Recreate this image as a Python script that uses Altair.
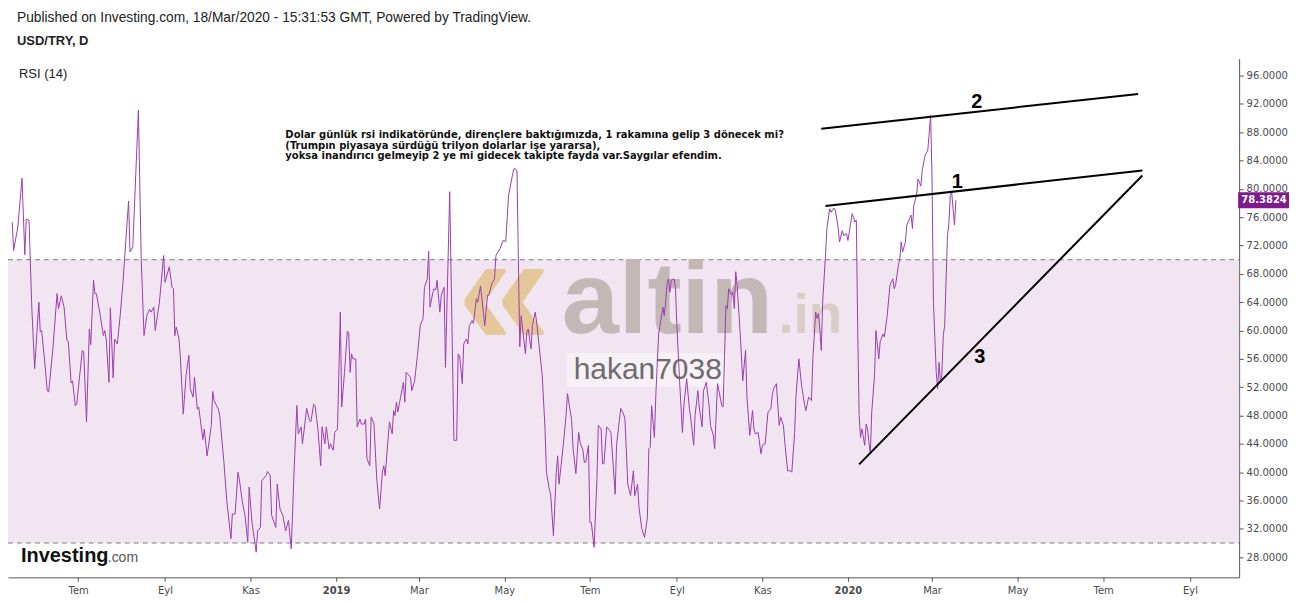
import altair as alt
import pandas as pd

# ---------------- data ----------------
start_date = "2018-05-14"
day_offsets = [
    1, 2, 5, 8, 10, 11, 13, 15, 17, 20, 21, 22, 24, 26, 27, 30, 33, 34, 36, 38,
    40, 41, 43, 44, 46, 47, 51, 52, 54, 56, 57, 59, 60, 61, 63, 66, 67, 68, 70, 71,
    73, 74, 76, 78, 80, 81, 84, 85, 87, 91, 93, 95, 97, 99, 100, 102, 103, 106, 109, 110,
    113, 115, 116, 117, 118, 120, 121, 123, 125, 127, 128, 130, 131, 133, 134, 137, 138, 140, 143, 144,
    145, 148, 149, 152, 154, 157, 158, 160, 162, 163, 165, 167, 169, 170, 172, 175, 176, 178, 179, 182,
    183, 185, 186, 189, 190, 192, 194, 196, 198, 200, 202, 204, 205, 207, 208, 211, 213, 214, 216, 217,
    219, 221, 222, 224, 225, 227, 228, 230, 231, 233, 235, 236, 238, 240, 241, 242, 243, 244, 246, 247,
    249, 250, 252, 253, 254, 256, 257, 259, 261, 263, 265, 266, 267, 270, 272, 273, 274, 275, 276, 278,
    280, 281, 282, 283, 285, 286, 288, 290, 292, 294, 295, 297, 298, 299, 301, 302, 303, 304, 306, 307,
    309, 310, 313, 316, 318, 319, 320, 322, 323, 325, 326, 327, 329, 330, 332, 333, 335, 337, 338, 340,
    341, 343, 345, 346, 349, 351, 353, 355, 358, 359, 361, 362, 363, 364, 365, 367, 368, 369, 371, 372,
    374, 375, 377, 379, 381, 382, 384, 385, 387, 389, 390, 391, 394, 396, 397, 400, 401, 403, 405, 406,
    408, 409, 410, 412, 413, 414, 416, 418, 419, 421, 422, 423, 425, 427, 428, 431, 432, 434, 435, 437,
    438, 440, 442, 444, 445, 447, 448, 450, 452, 454, 455, 456, 457, 459, 460, 462, 463, 465, 466, 467,
    468, 469, 470, 471, 473, 474, 475, 477, 479, 480, 482, 484, 485, 487, 488, 490, 491, 493, 494, 496,
    498, 499, 501, 502, 504, 505, 507, 508, 510, 511, 512, 514, 515, 516, 517, 518, 520, 522, 524, 525,
    527, 529, 530, 531, 533, 535, 536, 538, 540, 542, 543, 544, 546, 548, 549, 551, 552, 554, 556, 557,
    559, 560, 562, 564, 566, 567, 569, 571, 572, 574, 575, 576, 577, 578, 579, 581, 582, 584, 585, 587,
    588, 590, 591, 593, 594, 596, 597, 598, 600, 601, 602, 603, 604, 605, 606, 607, 609, 610, 611, 612,
    613, 614, 616, 617, 619, 620, 622, 623, 625, 627, 629, 630, 631, 633, 634, 635, 636, 638, 639, 641,
    642, 643, 644, 646, 647, 649, 650, 652, 654, 655, 656, 657, 658, 660, 661, 662, 663, 664, 665, 666,
    668, 669, 670, 671, 673, 674,
]
rsi_values = [
    75.3, 71.3, 74.6, 81.5, 70.7, 75.7, 75.6, 63.1, 54.6, 64.0, 59.8, 60.0, 56.0, 51.5, 51.3, 57.4, 65.2, 63.1, 64.9, 63.3,
    58.6, 58.5, 52.6, 52.9, 49.4, 49.6, 57.2, 57.0, 47.1, 60.2, 58.0, 67.1, 65.2, 65.2, 63.1, 59.3, 60.0, 58.8, 52.7, 63.2,
    53.3, 58.8, 58.1, 62.1, 66.8, 69.7, 78.3, 71.1, 71.8, 91.1, 70.1, 59.3, 62.1, 63.0, 62.6, 63.3, 60.0, 64.0, 70.6, 66.8,
    69.0, 66.1, 65.9, 59.3, 60.5, 58.8, 56.0, 48.2, 53.7, 56.5, 51.8, 50.6, 53.4, 48.9, 49.2, 44.6, 46.1, 42.3, 46.6, 51.4,
    50.1, 48.9, 48.0, 41.4, 36.0, 30.6, 34.1, 34.1, 40.0, 39.0, 36.0, 33.9, 30.1, 37.9, 32.9, 28.7, 31.7, 32.2, 38.8, 39.5,
    40.1, 39.5, 33.9, 32.2, 38.3, 34.8, 33.9, 31.7, 33.2, 29.2, 40.0, 49.4, 45.4, 46.4, 44.0, 49.0, 47.3, 47.1, 49.6, 49.4,
    46.1, 40.9, 46.4, 44.0, 46.4, 43.3, 44.0, 43.1, 45.6, 46.1, 62.6, 49.2, 54.1, 59.9, 59.7, 54.1, 56.7, 56.0, 56.0, 46.4,
    47.5, 46.8, 46.8, 47.5, 41.9, 40.9, 47.8, 46.8, 39.0, 34.8, 40.0, 40.9, 39.5, 47.1, 45.4, 48.7, 48.0, 49.9, 48.5, 50.6,
    52.7, 49.9, 54.1, 53.9, 53.4, 51.5, 52.9, 56.5, 60.7, 61.7, 66.1, 67.3, 71.2, 63.3, 65.4, 65.9, 65.7, 67.1, 62.6, 65.0,
    66.1, 54.8, 79.6, 44.5, 44.5, 56.7, 56.5, 52.5, 58.1, 58.8, 58.1, 60.7, 61.4, 61.0, 64.5, 64.0, 66.3, 62.6, 60.7, 65.0,
    65.0, 66.6, 67.3, 70.6, 71.6, 72.7, 72.6, 79.1, 82.2, 82.9, 82.6, 69.7, 57.7, 62.1, 60.2, 56.7, 59.8, 60.2, 57.4, 60.7,
    62.6, 61.2, 57.4, 53.7, 46.1, 40.0, 37.6, 36.9, 31.0, 40.0, 42.3, 38.3, 43.8, 48.0, 51.1, 47.3, 43.3, 39.8, 45.6, 44.2,
    43.1, 41.4, 41.4, 43.8, 32.9, 32.9, 29.4, 39.0, 46.6, 46.1, 41.2, 41.2, 46.4, 45.9, 45.6, 36.9, 43.8, 47.3, 49.0, 48.2,
    47.5, 38.3, 36.7, 40.2, 36.7, 38.3, 35.0, 32.0, 30.8, 33.6, 43.3, 43.5, 49.4, 44.9, 50.8, 59.5, 60.7, 63.3, 62.1, 64.0,
    66.6, 67.3, 65.4, 67.1, 67.3, 66.1, 60.7, 52.7, 45.6, 49.4, 53.2, 48.9, 47.5, 43.8, 48.0, 51.5, 49.2, 46.4, 51.5, 52.7,
    49.4, 46.6, 45.2, 43.3, 52.5, 51.5, 49.4, 49.2, 63.5, 63.1, 65.9, 65.0, 65.4, 63.1, 68.3, 66.4, 60.2, 52.9, 57.2, 50.6,
    45.2, 48.7, 46.1, 45.4, 45.6, 42.6, 43.8, 44.0, 48.5, 48.9, 50.8, 51.8, 52.5, 46.6, 47.8, 46.6, 44.2, 40.2, 40.2, 40.0,
    45.6, 50.8, 56.0, 52.2, 49.6, 48.7, 50.6, 50.1, 56.0, 62.6, 61.7, 62.4, 60.2, 57.2, 64.0, 70.6, 74.4, 77.2, 76.7, 77.3,
    77.0, 74.6, 72.5, 74.1, 73.4, 73.7, 72.7, 73.9, 76.5, 76.0, 75.3, 75.6, 60.2, 48.0, 44.9, 46.1, 43.8, 46.8, 46.1, 44.2,
    42.6, 48.5, 53.7, 60.0, 56.0, 58.4, 59.5, 59.1, 62.1, 66.4, 67.3, 65.9, 66.4, 69.2, 70.1, 72.5, 71.1, 72.5, 74.9, 75.8,
    76.3, 74.4, 77.7, 79.1, 81.4, 80.4, 82.6, 84.7, 85.5, 88.0, 90.4, 81.4, 64.0, 54.1, 51.8, 55.5, 52.7, 53.7, 59.3, 60.7,
    73.4, 75.1, 79.1, 79.5, 74.9, 78.3824,
]
last_value = 78.3824
band_levels = [30, 70]

trend_ids = ["1", "1", "2", "2", "3", "3"]
trend_dates = ["2019-12-16", "2020-07-29", "2019-12-13", "2020-07-26", "2020-01-09", "2020-07-29"]
trend_values = [77.6, 82.6, 88.5, 93.4, 41.1, 81.9]

label_texts = ["1", "2", "3"]
label_dates = ["2020-03-19", "2020-04-02", "2020-04-04"]
label_values = [80.9, 92.2, 56.3]

y_ticks = list(range(28, 97, 4))
x_tick_months = [(2018, 7), (2018, 9), (2018, 11), (2019, 1), (2019, 3), (2019, 5), (2019, 7),
                 (2019, 9), (2019, 11), (2020, 1), (2020, 3), (2020, 5), (2020, 7), (2020, 9)]

header_text = "Published on Investing.com, 18/Mar/2020 - 15:31:53 GMT, Powered by TradingView."
symbol_text = "USD/TRY, D"
indicator_text = "RSI (14)"
note_text = ("Dolar günlük rsi indikatöründe, dirençlere baktığımızda, 1 rakamına gelip 3 dönecek mi?\n"
             "(Trumpın piyasaya sürdüğü trilyon dolarlar işe yararsa),\n"
             "yoksa inandırıcı gelmeyip 2 ye mi gidecek takipte fayda var.Saygılar efendim.")

# ---------------- frames ----------------
df = pd.DataFrame({
    "date": pd.Timestamp(start_date) + pd.to_timedelta(day_offsets, unit="D"),
    "rsi": rsi_values,
})
tdf = pd.DataFrame({"id": trend_ids, "date": pd.to_datetime(trend_dates), "value": trend_values})
ldf = pd.DataFrame({"t": label_texts, "date": pd.to_datetime(label_dates), "value": label_values})
band_df = pd.DataFrame({"lo": [band_levels[0]], "hi": [band_levels[1]]})
rules_df = pd.DataFrame({"level": band_levels})
last_df = pd.DataFrame({"v": [last_value], "t": [f"{last_value:.4f}"]})

W, H = 1234, 520
PURPLE = "#9C3DB0"

x_scale = alt.Scale(domain=[alt.DateTime(year=2018, month=5, date=12),
                            alt.DateTime(year=2020, month=10, date=6)])
y_scale = alt.Scale(domain=[25.15, 98.4], nice=False, zero=False)

months_tr = "['Oca','Şub','Mar','Nis','May','Haz','Tem','Ağu','Eyl','Eki','Kas','Ara']"
x_axis = alt.Axis(
    values=[alt.DateTime(year=y, month=m, date=1) for y, m in x_tick_months],
    labelExpr=f"month(datum.value) == 0 ? timeFormat(datum.value, '%Y') : {months_tr}[month(datum.value)]",
    labelFontWeight={"condition": {"test": "month(datum.value) == 0", "value": "bold"}, "value": "normal"},
    title=None, grid=False, tickSize=4, domainColor="#555", tickColor="#555",
    labelColor="#4a4a4a", labelFont="DejaVu Sans", labelFontSize=10, labelPadding=4,
    labelFlush=False, labelOverlap=False,
)
y_axis = alt.Axis(
    orient="right", values=y_ticks, format=".4f", title=None, grid=False, tickSize=4,
    domainColor="#555", tickColor="#555", labelColor="#4a4a4a", labelFont="DejaVu Sans",
    labelFontSize=10, labelPadding=3, labelOverlap=False, labelFlush=False,
)

X = lambda f: alt.X(f, scale=x_scale, axis=x_axis)
Y = lambda f: alt.Y(f, scale=y_scale, axis=y_axis)


def text_layer(txt, x, y, **kw):
    return alt.Chart(pd.DataFrame({"t": [txt]})).mark_text(**kw).encode(
        text="t:N", x=alt.value(x), y=alt.value(y))


band = alt.Chart(band_df).mark_rect(color="#f1e5f1").encode(
    x=alt.value(0), x2=alt.value(W), y=Y("lo:Q"), y2="hi:Q")

rules = alt.Chart(rules_df).mark_rule(color="#7d7d7d", strokeDash=[5, 4], strokeWidth=1).encode(
    y=Y("level:Q"), x=alt.value(0), x2=alt.value(W))

# watermarks
logo = text_layer("«", 450, 289, font="Liberation Sans", fontSize=170, fontWeight="bold",
                  color="#e4c48c", opacity=0.85, align="left", baseline="alphabetic")
altin = text_layer("altin", 555, 275, font="Liberation Sans", fontSize=103, fontWeight="bold",
                   color="#c4b8b7", align="left", baseline="alphabetic")
dot_in = text_layer(".in", 772, 275, font="Liberation Sans", fontSize=55, fontWeight="bold",
                    color="#d9cdc6", align="left", baseline="alphabetic")
hakan_box = alt.Chart(pd.DataFrame({"a": [0]})).mark_rect(color="white", opacity=0.45).encode(
    x=alt.value(560), x2=alt.value(720), y=alt.value(295), y2=alt.value(329))
hakan = text_layer("hakan7038", 567, 312, font="Liberation Sans", fontSize=30, color="#6f6a6e",
                   align="left", baseline="middle")
investing = text_layer("Investing", 13, 505, font="Liberation Sans", fontSize=20, fontWeight="bold",
                       color="#111111", align="left", baseline="alphabetic")
dotcom = text_layer(".com", 100, 505, font="Liberation Sans", fontSize=14, color="#555555",
                    align="left", baseline="alphabetic")

line = alt.Chart(df).mark_line(color=PURPLE, strokeWidth=1).encode(x=X("date:T"), y=Y("rsi:Q"))

trend = alt.Chart(tdf).mark_line(color="black", strokeWidth=2).encode(
    x=X("date:T"), y=Y("value:Q"), detail="id:N")

nums = alt.Chart(ldf).mark_text(font="Liberation Sans", fontSize=20, fontWeight="bold",
                                color="black").encode(x=X("date:T"), y=Y("value:Q"), text="t:N")

note = text_layer(note_text, 278, 72, font="DejaVu Sans", fontSize=10, fontWeight="bold",
                  color="#111111", align="left", baseline="top", lineBreak="\n", lineHeight=10.5)

header = text_layer(header_text, 9, -41, font="Liberation Sans", fontSize=13.8, color="#222222",
                    align="left", baseline="middle")
symbol = text_layer(symbol_text, 9, -18, font="Liberation Sans", fontSize=13, fontWeight="bold",
                    color="#222222", align="left", baseline="middle")
indicator = text_layer(indicator_text, 11, 15, font="Liberation Sans", fontSize=13, color="#222222",
                       align="left", baseline="middle")

tag = alt.Chart(last_df).mark_rule(color="#7F1A8E", strokeWidth=16, strokeCap="butt").encode(
    y=Y("v:Q"), x=alt.value(W - 1), x2=alt.value(W + 50))
tag_text = alt.Chart(last_df).mark_text(font="DejaVu Sans", fontSize=10, fontWeight="bold",
                                        color="white", align="center", baseline="middle").encode(
    y=Y("v:Q"), x=alt.value(W + 25), text="t:N")

chart = alt.layer(
    band, rules, logo, altin, dot_in, hakan_box, hakan, investing, dotcom,
    line, trend, nums, note, header, symbol, indicator, tag, tag_text,
).properties(
    width=W, height=H,
    padding={"left": 0, "top": 50, "right": 52, "bottom": 20},
    autosize=alt.AutoSizeParams(type="none"),
    background="white",
).configure_view(strokeWidth=0)

chart.save("out.html", embed_options={"renderer": "svg", "actions": False})
